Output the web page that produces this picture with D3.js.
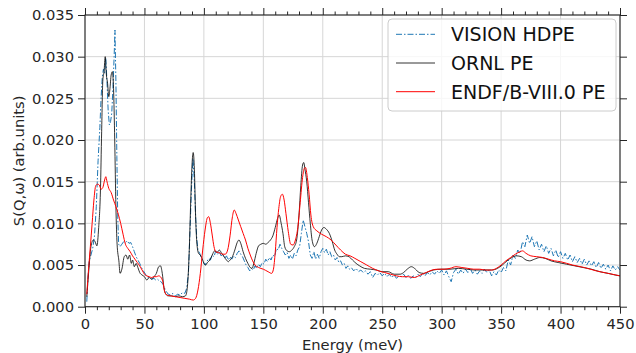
<!DOCTYPE html>
<html>
<head>
<meta charset="utf-8">
<script src="https://cdn.jsdelivr.net/npm/d3@7"></script>
<style>
  html, body { margin: 0; padding: 0; background: #fff; }
  svg { display: block; font-family: "DejaVu Sans", sans-serif; }
</style>
</head>
<body>
<svg id="chart" width="636" height="353"></svg>
<script>
// VISION HDPE (measured, noisy)
const visionEnergy = [1.5,2.5,3.5,5,6.5,8,9.5,11,12.5,13.5,14.5,15.5,16.5,17.5,18.5,19.5,20.5,21.5,22.5,23.5,24.5,25.2,26,26.8,27.5,28.3,29.5,31,32.5,34,35.5,37,38.5,40,41.5,43,44.5,46,47.5,49,50.5,52,53.5,55,56.5,58,59.5,61,62.5,64,65.5,67,68.5,70,72,74,76,78,80,82,84,85.5,87,88.3,89.5,90.8,92,93,94,95,96.5,98,99.5,101,102.5,104,105.5,107,108.5,110,111.5,113,114.5,116,117.5,119,120.5,122,123.5,125,126.5,128,129.5,131,132.5,134,135.5,137,138.5,140,141.5,143,144.5,146,147.5,149,150.5,152,153.5,155,156.5,158,159.5,161,162.5,164,165.5,167,168.5,170,171.5,173,174.5,176,177.5,179,180.5,182,183.5,185,186.5,188,189.5,191,192.5,194,195.5,197,198.5,200,201.5,203,204.5,206,207.5,209,210.5,212,213.5,215,216.5,218,219.5,221,222.5,224,226,228,230,232,234,236,238,240,242,244,246,248,250,252,254,256,258,260,262,264,266,268,270,272,274,276,278,280,282,284,286,288,290,292,294,296,298,300,302,304,306,308,310,312,314,316,318,320,322,324,326,328,330,332,334,336,338,340,342,344,346,348,350,352,354,356,358,360,362,364,366,368,370,372,374,376,378,380,382,384,386,388,390,392,394,396,398,400,402,404,406,408,410,412,414,416,418,420,422,424,426,428,430,432,434,436,438,440,442,444,446,448,450];
const visionS = [0.0006,0.0035,0.0055,0.0062,0.0070,0.0085,0.0120,0.0175,0.0215,0.0250,0.0275,0.0285,0.0280,0.0298,0.0270,0.0235,0.0218,0.0222,0.0232,0.0262,0.0300,0.0332,0.0270,0.0180,0.0110,0.0075,0.0072,0.0075,0.0078,0.0077,0.0079,0.0076,0.0077,0.0072,0.0066,0.0060,0.0056,0.0052,0.0047,0.0043,0.0040,0.0036,0.0035,0.0034,0.0033,0.0034,0.0032,0.0033,0.0031,0.0030,0.0027,0.0022,0.0018,0.0015,0.0014,0.0016,0.0013,0.0015,0.0014,0.0017,0.0016,0.0022,0.0040,0.0090,0.0140,0.0178,0.0150,0.0110,0.0082,0.0068,0.0064,0.0058,0.0054,0.0050,0.0054,0.0058,0.0056,0.0062,0.0060,0.0067,0.0063,0.0066,0.0061,0.0063,0.0058,0.0061,0.0056,0.0060,0.0057,0.0061,0.0059,0.0064,0.0067,0.0063,0.0060,0.0055,0.0050,0.0047,0.0043,0.0046,0.0044,0.0049,0.0046,0.0051,0.0048,0.0053,0.0051,0.0057,0.0054,0.0059,0.0056,0.0062,0.0060,0.0070,0.0068,0.0075,0.0070,0.0066,0.0062,0.0065,0.0058,0.0062,0.0057,0.0064,0.0061,0.0068,0.0072,0.0088,0.0104,0.0096,0.0088,0.0078,0.0062,0.0058,0.0066,0.0057,0.0063,0.0058,0.0066,0.0070,0.0065,0.0069,0.0062,0.0066,0.0060,0.0062,0.0056,0.0059,0.0053,0.0055,0.0050,0.0052,0.0046,0.0049,0.0045,0.0047,0.0043,0.0046,0.0042,0.0044,0.0041,0.0043,0.0039,0.0042,0.0035,0.0040,0.0038,0.0041,0.0037,0.0040,0.0036,0.0039,0.0035,0.0038,0.0034,0.0037,0.0036,0.0039,0.0035,0.0038,0.0034,0.0037,0.0035,0.0039,0.0036,0.0040,0.0037,0.0041,0.0038,0.0042,0.0039,0.0043,0.0040,0.0044,0.0038,0.0043,0.0036,0.0030,0.0041,0.0045,0.0039,0.0044,0.0040,0.0045,0.0041,0.0046,0.0040,0.0044,0.0039,0.0043,0.0040,0.0045,0.0041,0.0044,0.0037,0.0042,0.0038,0.0044,0.0041,0.0047,0.0043,0.0056,0.0050,0.0062,0.0058,0.0068,0.0064,0.0078,0.0072,0.0086,0.0076,0.0084,0.0072,0.0079,0.0068,0.0075,0.0066,0.0073,0.0064,0.0070,0.0061,0.0068,0.0059,0.0066,0.0058,0.0064,0.0056,0.0062,0.0054,0.0060,0.0053,0.0058,0.0051,0.0057,0.0050,0.0055,0.0049,0.0054,0.0047,0.0053,0.0046,0.0051,0.0045,0.0050,0.0043,0.0049,0.0044,0.0048,0.0044];

// ORNL PE
const ornlEnergy = [1.5,3,5,7,8.5,10,11.5,13,14,15,16,17,18,19,20,21,22,23,24,25,26,27,28.5,29.5,31,33,34.5,36,37.5,39,40,41.5,43,44.5,46,48,50,52,54,56,58,60,62,63.5,65,66.5,68,70,73,76,79,82,84.5,86,87.5,89,90,91,92,93,94,95.5,97,98.5,100,101.5,103,105,107,109,111,113,115,117,119,120.5,122,124,126,128,129.5,131,133,135,137,139,140.5,142,144,146,148,150,152,154,156,158,160,162,163.3,165,166.5,168,170,172,174,176,178,180,181.5,183,184,185,186.5,188,189.5,191,193,195,197,199,201,203,205.5,208,210,212,214,216,219,222,225,228,231,235,240,245,250,255,260,265,268,271,274.5,278,281,285,289,293,300,307,314,321,328,335,342,347,351,355,359,363,367,371,374,378,382.5,387,392,398,405,412,419,426,433,440,446,450];
const ornlS = [0.0012,0.0040,0.0072,0.0080,0.0078,0.0073,0.0095,0.0140,0.0210,0.0272,0.0282,0.0300,0.0278,0.0268,0.0252,0.0262,0.0278,0.0282,0.0262,0.0200,0.0120,0.0075,0.0055,0.0040,0.0045,0.0060,0.0062,0.0057,0.0062,0.0052,0.0056,0.0048,0.0052,0.0047,0.0041,0.0038,0.0036,0.0032,0.0035,0.0033,0.0036,0.0040,0.0048,0.0049,0.0040,0.0022,0.0015,0.0013,0.0013,0.0012,0.0013,0.0012,0.0013,0.0022,0.0060,0.0130,0.0170,0.0185,0.0165,0.0110,0.0078,0.0064,0.0062,0.0058,0.0052,0.0050,0.0053,0.0056,0.0062,0.0067,0.0065,0.0068,0.0064,0.0060,0.0056,0.0054,0.0056,0.0060,0.0068,0.0077,0.0080,0.0076,0.0066,0.0058,0.0052,0.0047,0.0046,0.0052,0.0064,0.0073,0.0075,0.0076,0.0075,0.0077,0.0080,0.0085,0.0095,0.0106,0.0110,0.0100,0.0088,0.0072,0.0067,0.0066,0.0068,0.0072,0.0080,0.0110,0.0145,0.0170,0.0173,0.0165,0.0150,0.0125,0.0100,0.0080,0.0072,0.0076,0.0084,0.0092,0.0095,0.0093,0.0088,0.0078,0.0068,0.0063,0.0060,0.0060,0.0061,0.0060,0.0056,0.0052,0.0049,0.0046,0.0045,0.0044,0.0042,0.0042,0.0039,0.0039,0.0041,0.0045,0.0048,0.0045,0.0041,0.0040,0.0042,0.0044,0.0045,0.0045,0.0046,0.0045,0.0044,0.0044,0.0044,0.0046,0.0050,0.0055,0.0059,0.0061,0.0060,0.0056,0.0055,0.0057,0.0059,0.0058,0.0055,0.0053,0.0051,0.0049,0.0047,0.0045,0.0042,0.0040,0.0038,0.0037];

// ENDF/B-VIII.0 PE
const endfEnergy = [1.5,3,4.5,6,7.5,9,10.5,12,13.5,15,16.5,17.5,18.5,20,22,24,26,28,30,32,34,36,38,40,42,44,46,48,50,52,54,56,58,60,62,64,65.5,67,69,72,76,80,84,88,91,93,95,97,99,101,103,104,105.5,107,108.5,110,112,114,116,118,120,122,124,125.5,127,129,131,133,135,137,139,141,143,146,150,154,157,158.5,160,161.5,163,164.5,166,167.5,169,171,173,175,177,179,181,183,184.5,185.5,187,188.5,190,192,195,199,203,207,211,215,219,223,227,232,237,242,247,252,257,262,267,272,277,282,287,292,297,302,307,312,317,322,327,332,337,342,346,350,354,358,362,366,368,371,375,380,385,390,395,400,410,420,430,440,450];
const endfS = [0.0015,0.0045,0.0072,0.0100,0.0128,0.0145,0.0147,0.0146,0.0141,0.0143,0.0152,0.0156,0.0150,0.0142,0.0137,0.0128,0.0120,0.0111,0.0100,0.0087,0.0075,0.0070,0.0066,0.0061,0.0057,0.0053,0.0049,0.0044,0.0039,0.0037,0.0036,0.0035,0.0036,0.0036,0.0037,0.0035,0.0030,0.0018,0.0014,0.0013,0.0012,0.0011,0.0010,0.0009,0.0008,0.0010,0.0020,0.0040,0.0068,0.0092,0.0107,0.0108,0.0100,0.0086,0.0072,0.0066,0.0065,0.0064,0.0063,0.0063,0.0068,0.0085,0.0108,0.0116,0.0112,0.0104,0.0096,0.0088,0.0080,0.0070,0.0062,0.0055,0.0050,0.0047,0.0045,0.0042,0.0040,0.0045,0.0065,0.0095,0.0118,0.0132,0.0135,0.0128,0.0112,0.0090,0.0075,0.0074,0.0080,0.0095,0.0125,0.0155,0.0166,0.0167,0.0155,0.0135,0.0110,0.0096,0.0091,0.0087,0.0084,0.0080,0.0074,0.0068,0.0063,0.0061,0.0058,0.0054,0.0050,0.0046,0.0043,0.0041,0.0039,0.0037,0.0036,0.0036,0.0035,0.0038,0.0041,0.0044,0.0045,0.0045,0.0046,0.0048,0.0047,0.0046,0.0045,0.0045,0.0044,0.0044,0.0046,0.0050,0.0055,0.0059,0.0063,0.0066,0.0067,0.0064,0.0061,0.0060,0.0059,0.0057,0.0055,0.0054,0.0050,0.0047,0.0043,0.0040,0.0037];

const xTicks = [0, 50, 100, 150, 200, 250, 300, 350, 400, 450];
const yTicks = [0.000, 0.005, 0.010, 0.015, 0.020, 0.025, 0.030, 0.035];
const seriesNames = ["VISION HDPE", "ORNL PE", "ENDF/B-VIII.0 PE"];

const svg = d3.select("#chart");
const W = 636, H = 353;
const m = { left: 85, right: 16, top: 15, bottom: 46.3 };
const pw = W - m.left - m.right, ph = H - m.top - m.bottom;

const x = d3.scaleLinear().domain([0, 450]).range([m.left, m.left + pw]);
const y = d3.scaleLinear().domain([0, 0.035]).range([m.top + ph, m.top]);

// Grid
const grid = svg.append("g").attr("stroke", "#d6d6d6").attr("stroke-width", 1);
grid.selectAll("line.gx").data(xTicks).join("line")
  .attr("x1", d => x(d)).attr("x2", d => x(d))
  .attr("y1", m.top).attr("y2", m.top + ph);
grid.selectAll("line.gy").data(yTicks).join("line")
  .attr("x1", m.left).attr("x2", m.left + pw)
  .attr("y1", d => y(d)).attr("y2", d => y(d));

// Series
svg.append("clipPath").attr("id", "plotclip")
  .append("rect").attr("x", m.left).attr("y", m.top).attr("width", pw).attr("height", ph);

const lineGen = d3.line().x(d => x(d[0])).y(d => y(d[1]));
const zip = (a, b) => a.map((v, i) => [v, b[i]]);

const plot = svg.append("g").attr("clip-path", "url(#plotclip)");
plot.append("path").datum(zip(visionEnergy, visionS))
  .attr("fill", "none").attr("stroke", "#1f77b4").attr("stroke-width", 1)
  .attr("stroke-dasharray", "6,2,1.5,2")
  .attr("d", lineGen.curve(d3.curveLinear));
plot.append("path").datum(zip(ornlEnergy, ornlS))
  .attr("fill", "none").attr("stroke", "#000").attr("stroke-width", 0.8)
  .attr("d", lineGen.curve(d3.curveMonotoneX));
plot.append("path").datum(zip(endfEnergy, endfS))
  .attr("fill", "none").attr("stroke", "#ff0000").attr("stroke-width", 1)
  .attr("d", lineGen.curve(d3.curveMonotoneX));

// Axes
const tickFont = 14.7;
function styleAxis(g) {
  g.select(".domain").remove();
  g.selectAll(".tick line").attr("stroke", "#262626").attr("stroke-width", 1);
  g.selectAll(".tick text").attr("font-size", tickFont).attr("fill", "#262626")
    .attr("font-family", "DejaVu Sans");
}
const minorX = d3.range(0, 451, 10).filter(v => v % 50 !== 0);

svg.append("g").attr("transform", `translate(0,${m.top + ph})`)
  .call(d3.axisBottom(x).tickValues(xTicks).tickFormat(d3.format("d")).tickSize(7).tickPadding(5))
  .call(styleAxis);
svg.append("g").attr("transform", `translate(0,${m.top + ph})`)
  .call(d3.axisBottom(x).tickValues(minorX).tickFormat("").tickSize(3.5))
  .call(styleAxis);
svg.append("g").attr("transform", `translate(0,${m.top})`)
  .call(d3.axisTop(x).tickValues(xTicks).tickFormat("").tickSize(7))
  .call(styleAxis);
svg.append("g").attr("transform", `translate(0,${m.top})`)
  .call(d3.axisTop(x).tickValues(minorX).tickFormat("").tickSize(3.5))
  .call(styleAxis);
svg.append("g").attr("transform", `translate(${m.left},0)`)
  .call(d3.axisLeft(y).tickValues(yTicks).tickFormat(d3.format(".3f")).tickSize(7).tickPadding(4))
  .call(styleAxis);
svg.append("g").attr("transform", `translate(${m.left + pw},0)`)
  .call(d3.axisRight(y).tickValues(yTicks).tickFormat("").tickSize(7))
  .call(styleAxis);

// Frame
svg.append("rect").attr("x", m.left).attr("y", m.top).attr("width", pw).attr("height", ph)
  .attr("fill", "none").attr("stroke", "#262626").attr("stroke-width", 1.1);

// Axis labels
svg.append("text").attr("x", m.left + pw / 2).attr("y", 350)
  .attr("text-anchor", "middle").attr("font-size", tickFont).attr("fill", "#262626")
  .text("Energy (meV)");
svg.append("text").attr("transform", `translate(24,${m.top + ph / 2}) rotate(-90)`)
  .attr("text-anchor", "middle").attr("font-size", tickFont).attr("fill", "#262626")
  .text("S(Q,ω) (arb.units)");

// Legend
const lg = svg.append("g");
lg.append("rect").attr("x", 388).attr("y", 19).attr("width", 228).attr("height", 92).attr("rx", 4)
  .attr("fill", "#fff").attr("fill-opacity", 0.8).attr("stroke", "#cccccc").attr("stroke-width", 1);
const legendStyles = [
  { stroke: "#1f77b4", w: 1, dash: "6,2,1.5,2" },
  { stroke: "#000", w: 0.8, dash: null },
  { stroke: "#ff0000", w: 1, dash: null }
];
seriesNames.forEach((name, i) => {
  const cy = 34.3 + i * 28.7;
  const s = legendStyles[i];
  lg.append("line").attr("x1", 396).attr("x2", 435).attr("y1", cy).attr("y2", cy)
    .attr("stroke", s.stroke).attr("stroke-width", s.w)
    .attr("stroke-dasharray", s.dash);
  lg.append("text").attr("x", 451).attr("y", cy + 7).attr("font-size", 19)
    .attr("fill", "#111").text(name);
});
</script>
</body>
</html>
